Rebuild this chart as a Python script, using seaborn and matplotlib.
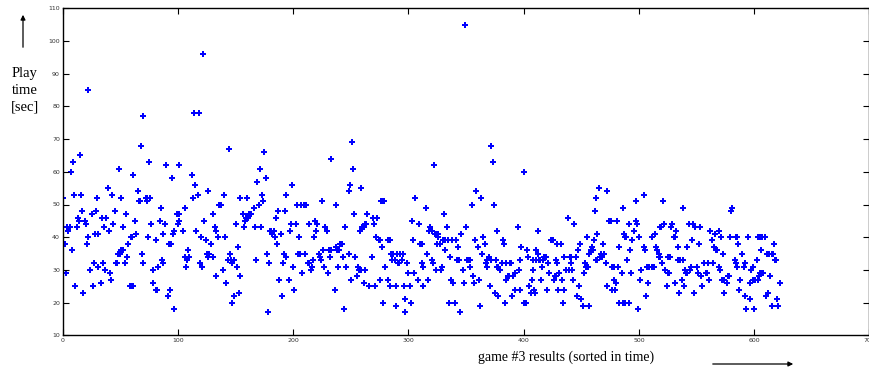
import matplotlib
matplotlib.use("Agg")
import matplotlib.pyplot as plt
import numpy as np
import pandas as pd
import seaborn as sns

# game index (sorted in time) and play time in seconds
game_idx = [
    0, 2, 3, 4, 5, 6, 7, 8, 9, 10, 11, 12, 13, 14, 15, 16, 17, 18, 19, 20,
    21, 22, 22, 24, 25, 26, 27, 28, 29, 30, 31, 31, 33, 34, 35, 36, 37, 38, 39, 40,
    41, 42, 43, 44, 45, 46, 47, 48, 49, 50, 51, 51, 52, 52, 54, 55, 56, 57, 58, 59,
    60, 60, 61, 61, 63, 64, 65, 66, 67, 68, 69, 70, 70, 72, 73, 73, 74, 75,
    76, 77, 78, 78, 81, 81, 82, 83, 84, 85, 86, 87, 87, 89, 90, 91, 92, 93, 94, 95,
    96, 97, 97, 99, 100, 101, 101, 101, 104, 106, 106, 107, 108, 109, 110, 112, 113, 114, 115, 116,
    117, 118, 119, 120, 121, 122, 123, 124, 125, 126, 126, 127, 129, 130, 130, 132, 133, 133, 135, 136,
    137, 139, 140, 141, 142, 143, 144, 145, 146, 147, 147, 149, 149, 150, 151, 152, 153, 154, 154,
    156, 157, 158, 159, 160, 161, 162, 163, 166, 167, 168, 169, 170, 171, 172, 173, 174, 175, 176, 177,
    178, 179, 180, 181, 182, 183, 184, 185, 186, 187, 188, 189, 190, 191, 192, 193, 194, 194, 196, 197,
    198, 199, 200, 201, 202, 203, 204, 205, 206, 207, 208, 209, 210, 210, 211, 213, 214, 214, 215, 216,
    217, 218, 219, 220, 221, 222, 223, 224, 225, 226, 227, 228, 229, 230, 231, 232, 233, 233,
    236, 237, 237, 238, 239, 240, 241, 242, 243, 244, 245, 246, 248, 248, 249, 250, 251, 252, 253, 254,
    255, 256, 257, 258, 259, 259, 260, 261, 261, 262, 262, 263, 264, 266, 268, 269, 270, 271, 272, 273,
    274, 275, 275, 276, 277, 278, 278, 279, 280, 282, 282, 284, 284, 285, 286, 287, 288, 289, 289, 290,
    291, 292, 293, 294, 295, 296, 297, 297, 299, 300, 301, 302, 303, 304, 305, 306, 308, 309, 310, 312,
    312, 313, 313,
    315, 316, 317, 318, 319, 320, 320, 321, 322, 323, 324, 325, 325, 326, 326, 327, 328, 329, 330, 331,
    332, 332, 333, 334, 335, 336, 337, 338, 339, 340, 341, 342, 343, 344, 345, 346, 347, 348, 349, 350,
    351, 352, 353, 353, 355, 356, 357, 358, 359, 360, 361, 362, 363, 364, 365, 366, 367, 368, 368, 370,
    371, 372, 372, 373, 374, 375, 376, 377, 377, 378, 378, 379, 381, 382, 383, 384, 385, 385, 386, 387,
    388, 389, 390, 391, 392, 392,
    395, 396, 397, 397, 398, 400, 400, 402, 403, 404, 405, 406, 407, 408, 408, 409, 410, 411, 411, 412,
    412, 413, 414, 415, 416, 417, 418, 419, 420, 421, 422, 424, 425, 426, 427, 428, 428, 429, 429, 430,
    431, 432, 433, 434, 435, 435, 437, 438, 439, 440, 441, 441, 442, 443, 444, 445, 446, 447, 448, 449,
    450, 451, 452, 453, 454, 455, 455, 456, 457, 457, 458, 459, 460, 461, 462, 463, 463, 464, 464, 465,
    466, 467, 468, 469, 470, 471, 472, 472,
    474, 476, 477, 477, 478, 478, 479, 480, 481, 482, 483, 483, 485, 486, 486, 487, 488, 488, 489, 490,
    491, 491, 492, 493, 494, 496, 497, 497, 498, 499, 500, 501, 502, 504, 504, 505, 506, 507, 508, 509,
    511, 511, 513, 514, 515, 516, 517, 517, 518, 518, 519, 520, 521, 522, 523, 524, 525, 525, 526, 527,
    528, 529, 530, 531, 531, 532, 534, 534, 535, 536, 537, 538, 538, 539, 540, 541, 542, 542, 543, 544,
    545, 546, 547, 548, 549, 550, 551, 552,
    553, 554, 555, 556, 558, 559, 560, 561, 562, 563, 564, 565, 566, 567, 568, 569, 569, 570, 571, 572,
    573, 574, 574, 576, 577, 578, 579, 580, 581, 583, 584, 584, 585, 585, 586, 587, 588, 589, 591, 592,
    592, 593, 595, 596, 596, 597, 599, 599, 600, 601, 602, 603, 603, 604, 605, 605, 606, 606, 607, 608,
    609, 610, 611, 612, 613, 614, 615, 615, 616, 617, 618, 619, 620, 621, 622,
]
play_time = [
    52, 38, 29, 43, 42, 43, 60, 36, 63, 53, 25, 43, 46, 45, 65, 53, 48, 23, 45, 44,
    38, 40, 85, 30, 47, 25, 32, 41, 48, 52, 41, 31, 26, 46, 32, 43, 30, 46, 55, 42,
    29, 27, 53, 44, 48, 32, 32, 35, 61, 35, 36, 52, 43, 36, 32, 47, 34, 38, 25, 40,
    25, 40, 25, 59, 45, 41, 54, 51, 51, 68, 35, 32, 77, 52, 51, 52, 40, 63,
    52, 44, 26, 30, 39, 24, 24, 31, 45, 49, 33, 32, 41, 44, 62, 22, 38, 24, 38, 58,
    41, 42, 18, 47, 44, 45, 62, 47, 42, 49, 34, 31, 33, 36, 34, 59, 52, 78, 56, 42,
    53, 78, 32, 40, 31, 96, 45, 39, 35, 34, 54, 35, 38, 47, 34, 43, 42, 28, 40, 50,
    50, 30, 53, 40, 26, 33, 67, 35, 33, 32, 20, 22, 33, 44, 31, 37, 23, 28, 52,
    47, 43, 45, 46, 52, 46, 47, 47, 49, 43, 33, 57, 50, 61, 43, 53, 51, 66, 58, 35,
    17, 32, 42, 42, 41, 42, 40, 46, 38, 48, 27, 41, 22, 32, 35, 48, 34, 53, 27, 42,
    44, 56, 31, 24, 44, 50, 35, 40, 35, 50, 29, 50, 35, 50, 50, 32, 32, 44, 30, 31,
    33, 40, 45, 42, 44, 35, 34, 33, 51, 36, 31, 43, 42, 29, 36, 34, 36, 64,
    24, 50, 37, 36, 31, 36, 38, 38, 34, 18, 43, 31, 54, 35, 56, 27, 69, 61, 47, 34,
    28, 31, 30, 42, 55, 30, 43, 43, 26, 30, 44, 44, 47, 25, 34, 46, 44, 25, 40, 46,
    39, 39, 27, 51, 37, 51, 20, 51, 31, 27, 39, 39, 25, 35, 33, 35, 33, 25, 19, 35,
    32, 32, 35, 33, 35, 25, 21, 17, 32, 29, 25, 20, 45, 39, 29, 52, 27, 44, 38, 38,
    32, 31, 25,
    49, 35, 27, 42, 43, 33, 42, 32, 62, 41, 30, 41, 38, 41, 40, 38, 30, 31, 39, 47,
    36, 39, 43, 39, 20, 34, 27, 39, 26, 20, 39, 33, 37, 33, 17, 41, 30, 26, 105, 43,
    33, 33, 31, 33, 50, 28, 26, 39, 54, 37, 27, 19, 52, 35, 40, 38, 32, 31, 33, 34,
    25, 33, 68, 63, 50, 23, 33, 31, 42, 22, 31, 30, 32, 39, 38, 20, 32, 27, 28, 28,
    32, 32, 22, 28, 29, 24,
    43, 30, 24, 33, 37, 60, 20, 20, 36, 34, 25, 23, 27, 30, 33, 24, 23, 33, 36, 42,
    35, 33, 33, 27, 31, 33, 34, 34, 24, 32, 29, 39, 39, 27, 28, 28, 33, 32, 38, 24,
    29, 38, 27, 20, 34, 24, 30, 46, 30, 34, 34, 32, 30, 27, 44, 34, 22, 36, 25, 38,
    21, 19, 29, 32, 31, 31, 40, 31, 35, 19, 36, 37, 36, 39, 48, 52, 33, 41, 33, 55,
    34, 35, 34, 38, 35, 32, 25, 54,
    45, 45, 31, 24, 31, 27, 24, 26, 45, 31, 37, 20, 29, 49, 20, 41, 40, 20, 40, 33,
    20, 44, 36, 29, 39, 42, 45, 51, 44, 18, 40, 27, 30, 53, 37, 36, 22, 31, 26, 31,
    40, 31, 31, 41, 37, 36, 35, 34, 43, 34, 43, 32, 51, 44, 30, 25, 29, 34, 29, 34,
    43, 44, 40, 40, 26, 42, 37, 33, 23, 33, 27, 49, 33, 25, 30, 29, 37, 29, 44, 30,
    31, 39, 44, 23, 43, 31, 29, 38,
    43, 28, 25, 32, 29, 29, 32, 27, 42, 39, 32, 37, 41, 36, 36, 42, 31, 30, 40, 27,
    35, 23, 27, 26, 28, 28, 40, 48, 49, 33, 32, 40, 40, 31, 38, 24, 27, 35, 31, 22,
    32, 18, 40, 26, 21, 30, 31, 27, 18, 27, 33, 27, 40, 28, 40, 29, 36, 29, 40, 29,
    40, 22, 35, 23, 35, 28, 19, 35, 35, 38, 33, 33, 21, 19, 26,
]

x_ticks = list(range(0, 701, 100))
y_ticks = list(range(10, 111, 10))

df = pd.DataFrame({"game": game_idx, "time": play_time})

W, H = 870, 371
fig = plt.figure(figsize=(W / 100, H / 100), dpi=100)
ax = fig.add_axes([62.7 / W, 1 - 335.3 / H, (869.5 - 62.7) / W, (335.3 - 8.3) / H])

sns.scatterplot(data=df, x="game", y="time", ax=ax, marker="P", s=13,
                color="#0000ff", linewidth=0, legend=False)

ax.set_xlim(0, 700)
ax.set_ylim(10, 110)
ax.set_xticks(x_ticks)
ax.set_yticks(y_ticks)
ax.set_xlabel("")
ax.set_ylabel("")
ax.tick_params(direction="in", length=4, width=0.8, labelsize=4.5,
               labelcolor="#333333", top=True, right=True, pad=2)
for sp in ax.spines.values():
    sp.set_linewidth(1.0)
    sp.set_color("black")

serif = ["Liberation Serif", "DejaVu Serif"]
fig.text(25 / W, 1 - 73 / H, "Play", ha="center", va="center", fontsize=10.5, family=serif)
fig.text(25 / W, 1 - 90 / H, "time", ha="center", va="center", fontsize=10.5, family=serif)
fig.text(25 / W, 1 - 107 / H, "[sec]", ha="center", va="center", fontsize=10.5, family=serif)
fig.text(566 / W, 1 - 357 / H, "game #3 results (sorted in time)", ha="center", va="center",
         fontsize=10, family=serif)

arrow = dict(arrowstyle="-|>", color="black", lw=0.9, mutation_scale=7)
ax.annotate("", xy=(23, H - 12), xytext=(23, H - 50), xycoords="figure pixels",
            textcoords="figure pixels", arrowprops=arrow, annotation_clip=False)
ax.annotate("", xy=(796, H - 364), xytext=(710, H - 364), xycoords="figure pixels",
            textcoords="figure pixels", arrowprops=arrow, annotation_clip=False)

fig.savefig("out.png", dpi=100)
